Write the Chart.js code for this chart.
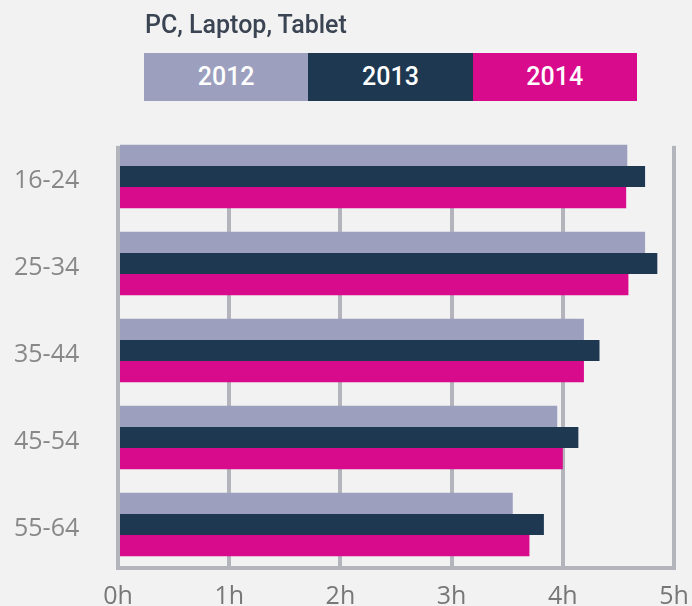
<!DOCTYPE html>
<html>
<head>
<meta charset="utf-8">
<script src="https://cdn.jsdelivr.net/npm/chart.js@4.4.1/dist/chart.umd.min.js"></script>
<style>
  body { margin: 0; background: #f2f2f2; }
  #wrap { position: relative; width: 692px; height: 606px; overflow: hidden; }
  #title {
    position: absolute; left: 145px; top: 10px;
    font: 500 25px Roboto, "Open Sans", sans-serif; line-height: 30px; color: #3b4453;
  }
  #legend { position: absolute; left: 144px; top: 53px; display: flex; }
  #legend span {
    display: block; width: 164.3px; height: 48px;
    text-align: center; color: #fff; font: 500 25px Roboto, "Open Sans", sans-serif;
    line-height: 48px;
  }
</style>
</head>
<body>
<div id="wrap">
  <canvas id="usageChart" width="692" height="606"></canvas>
  <div id="title">PC, Laptop, Tablet</div>
  <div id="legend"></div>
</div>
<script>
const ageGroups = ['16-24', '25-34', '35-44', '45-54', '55-64'];
const years = ['2012', '2013', '2014'];
const hours2012 = [4.58, 4.74, 4.19, 3.95, 3.55];
const hours2013 = [4.74, 4.85, 4.33, 4.14, 3.83];
const hours2014 = [4.57, 4.59, 4.19, 4.00, 3.70];
const hourTicks = ['0h', '1h', '2h', '3h', '4h', '5h'];

const colors = ['#9ca0be', '#1e3851', '#d80b8c'];
const gridColor = '#b3b4bc';
const bg = '#f2f2f2';

// gridlines only start at the top of the first bar in the original
const trimGrid = {
    id: 'trimGrid',
    beforeDatasetsDraw(chart) {
        const bar = chart.getDatasetMeta(0).data[0];
        const area = chart.chartArea;
        const top = bar.y - bar.height / 2;
        chart.ctx.save();
        chart.ctx.fillStyle = bg;
        chart.ctx.fillRect(area.left - 5, 0, area.right - area.left + 10, top + 1);
        chart.ctx.restore();
    }
};

const ctx = document.getElementById('usageChart').getContext('2d');
const usageChart = new Chart(ctx, {
    type: 'bar',
    data: {
        labels: ageGroups,
        datasets: [
            { label: years[0], data: hours2012, backgroundColor: colors[0] },
            { label: years[1], data: hours2013, backgroundColor: colors[1] },
            { label: years[2], data: hours2014, backgroundColor: colors[2] }
        ]
    },
    options: {
        indexAxis: 'y',
        responsive: false,
        animation: false,
        devicePixelRatio: 1,
        layout: { padding: { top: 133, left: 14, right: 18, bottom: -20 } },
        datasets: {
            bar: { barPercentage: 1, categoryPercentage: 0.7275, borderWidth: 0 }
        },
        plugins: { legend: { display: false }, tooltip: { enabled: false } },
        scales: {
            x: {
                min: 0,
                max: 5,
                afterFit: scale => { scale.paddingRight = 14; },
                ticks: {
                    stepSize: 1,
                    padding: 14,
                    color: '#777',
                    font: { family: 'Open Sans', size: 25 },
                    callback: v => hourTicks[v]
                },
                grid: { color: gridColor, lineWidth: 4, drawTicks: false },
                border: { display: true, color: gridColor, width: 4 }
            },
            y: {
                afterFit: scale => { scale.width = 104; },
                ticks: {
                    crossAlign: 'far',
                    labelOffset: 4,
                    color: '#888',
                    font: { family: 'Open Sans', size: 25 }
                },
                grid: { display: false },
                border: { display: false }
            }
        }
    },
    plugins: [trimGrid]
});

document.getElementById('legend').innerHTML = usageChart.data.datasets
    .map(ds => `<span style="background:${ds.backgroundColor}">${ds.label}</span>`)
    .join('');
</script>
</body>
</html>
